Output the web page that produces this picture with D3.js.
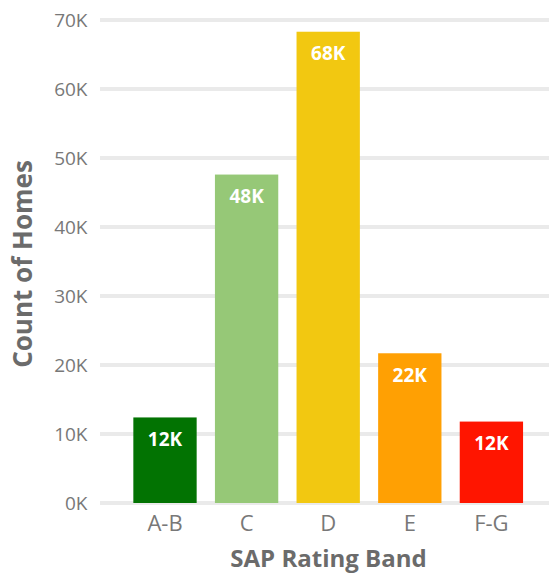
<!DOCTYPE html>
<html>
<head>
<meta charset="utf-8">
<script src="https://cdn.jsdelivr.net/npm/d3@7"></script>
<style>
  html, body { margin: 0; padding: 0; background: #fff; }
  svg { display: block; }
</style>
</head>
<body>
<svg id="chart" width="549" height="573"></svg>
<script>
// Homes by SAP rating band
const categories = ["A-B", "C", "D", "E", "F-G"];
const counts = [12400, 47600, 68300, 21700, 11800];
const valueLabels = ["12K", "48K", "68K", "22K", "12K"];
const barColors = ["#027302", "#96c877", "#f2c811", "#ffa003", "#ff1500"];
const yTicks = [0, 10000, 20000, 30000, 40000, 50000, 60000, 70000];
const yTickLabels = ["0K", "10K", "20K", "30K", "40K", "50K", "60K", "70K"];

const svg = d3.select("#chart");
const font = "'Open Sans', 'Noto Sans', sans-serif";

const y = d3.scaleLinear().domain([0, 70000]).range([503, 20]);
const x = d3.scaleBand().domain(categories).range([124.2, 532.2])
  .paddingInner(0.224).paddingOuter(0.112);

// horizontal gridlines
svg.append("g").selectAll("line").data(yTicks).join("line")
  .attr("x1", 100).attr("x2", 549)
  .attr("y1", d => y(d)).attr("y2", d => y(d))
  .attr("stroke", "#eaeaea").attr("stroke-width", 4);

// y axis (labels only)
const yAxis = d3.axisLeft(y).tickValues(yTicks)
  .tickFormat((d, i) => yTickLabels[i]).tickSize(0).tickPadding(0);
const gy = svg.append("g").attr("transform", "translate(87.5,0)").call(yAxis);
gy.select(".domain").remove();
gy.selectAll("text").attr("font-family", font).attr("font-size", 19)
  .attr("fill", "#787878").attr("dy", "0.35em");

// bars
svg.append("g").selectAll("rect").data(categories).join("rect")
  .attr("x", d => x(d)).attr("width", x.bandwidth())
  .attr("y", (d, i) => y(counts[i]))
  .attr("height", (d, i) => y(0) - y(counts[i]))
  .attr("fill", (d, i) => barColors[i]);

// value labels inside bars
svg.append("g").selectAll("text").data(categories).join("text")
  .attr("x", d => x(d) + x.bandwidth() / 2)
  .attr("y", (d, i) => y(counts[i]) + 28.5)
  .attr("text-anchor", "middle")
  .attr("font-family", font).attr("font-weight", "bold").attr("font-size", 19)
  .attr("fill", "#ffffff")
  .text((d, i) => valueLabels[i]);

// x axis (labels only)
const xAxis = d3.axisBottom(x).tickSize(0).tickPadding(0);
const gx = svg.append("g").attr("transform", "translate(0,531)").call(xAxis);
gx.select(".domain").remove();
gx.selectAll("text").attr("font-family", font).attr("font-size", 22)
  .attr("fill", "#787878").attr("dy", "0");

// axis titles
svg.append("text")
  .attr("x", 328.5).attr("y", 566.5)
  .attr("text-anchor", "middle")
  .attr("font-family", font).attr("font-weight", "bold").attr("font-size", 24)
  .attr("fill", "#6b6b6b")
  .text("SAP Rating Band");

svg.append("text")
  .attr("transform", "translate(32,264) rotate(-90)")
  .attr("text-anchor", "middle")
  .attr("font-family", font).attr("font-weight", "bold").attr("font-size", 26)
  .attr("fill", "#6b6b6b")
  .text("Count of Homes");
</script>
</body>
</html>
